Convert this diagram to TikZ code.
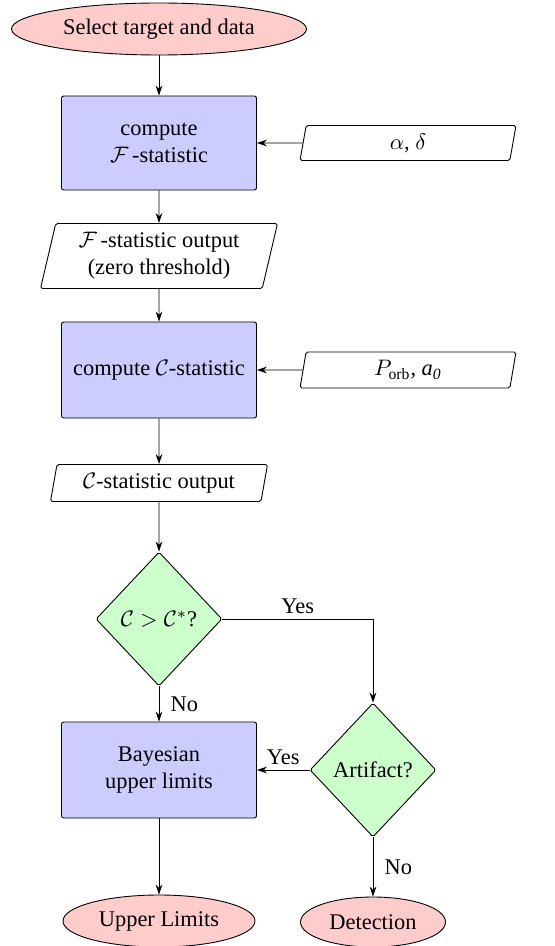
\documentclass[tikz,border=0pt]{standalone}
\usepackage{fontspec}
\setmainfont{Liberation Serif}
\newfontfamily\timesf{Liberation Serif}
\usetikzlibrary{shapes.geometric,arrows.meta}
\def\myu{0.4464pt}
\tikzset{
  every node/.style={font=\timesf\fontsize{10}{12}\selectfont},
  line/.style={draw, line width=0.4pt},
  arr/.style={line, -{Stealth[length=4.5pt,width=3pt]}},
  term/.style={ellipse, draw, fill=red!20, inner sep=0pt},
  proc/.style={rectangle, draw, fill=blue!20, rounded corners=1pt, inner sep=0pt, align=center, minimum width=195*\myu},
  io/.style={trapezium, trapezium left angle=72, trapezium right angle=108, trapezium stretches body, draw, fill=white, rounded corners=0.8pt, inner sep=0pt, align=center},
  dec/.style={diamond, draw, fill=green!20, inner sep=0pt, aspect=0.94, rounded corners=0.8pt, minimum width=126*\myu, minimum height=134*\myu},
  lab/.style={inner sep=5pt}
}
\begin{document}
\begin{tikzpicture}[x=0.4464pt,y=-0.4464pt]
\useasboundingbox (0,0) rectangle (554,946);
\node[term, minimum width=295*\myu, minimum height=52*\myu] (start) at (159,29) {Select target and data};
\node[proc, minimum height=94*\myu] (box1) at (159,143) {compute\\$\mathcal{F}$\,-statistic};
\node[io, minimum width=216*\myu, minimum height=35*\myu] (in1) at (408,143) {$\alpha$, $\delta$};
\node[io, minimum width=237*\myu, minimum height=65*\myu] (out1) at (159,256) {$\mathcal{F}$\,-statistic output\\(zero threshold)};
\node[proc, minimum height=96*\myu] (box2) at (159,370) {compute $\mathcal{C}$-statistic};
\node[io, minimum width=216*\myu, minimum height=36*\myu] (in2) at (408,370) {$P_{\mathrm{orb}}$, \textit{a}\textsubscript{\textit{0}}};
\node[io, minimum width=217*\myu, minimum height=37*\myu] (out2) at (159,483) {$\mathcal{C}$-statistic output};
\node[dec] (d1) at (159,619) {$\mathcal{C} > \mathcal{C}^{*}$?};
\node[dec] (d2) at (373,770) {Artifact?};
\node[proc, minimum height=96*\myu] (box3) at (159,770) {Bayesian\\upper limits};
\node[term, minimum width=192*\myu, minimum height=52*\myu] (end1) at (159,921) {Upper Limits};
\node[term, minimum width=145*\myu, minimum height=50*\myu] (end2) at (373,922) {Detection};

\draw[arr] (start) -- (box1);
\draw[arr] (in1.west) -- (box1.east);
\draw[arr] (box1) -- (out1);
\draw[arr] (out1) -- (box2);
\draw[arr] (in2.west) -- (box2.east);
\draw[arr] (box2) -- (out2);
\draw[arr] (out2) -- (d1);
\draw[arr] (d1.east) -| node[pos=0.25, above, inner sep=2pt] {Yes} (d2.north);
\draw[arr] (d1.south) -- node[right, lab] {No} (box3.north);
\draw[arr] (d2.west) -- node[above, inner sep=2pt] {Yes} (box3.east);
\draw[arr] (box3) -- (end1);
\draw[arr] (d2.south) -- node[right, lab] {No} (end2.north);
\end{tikzpicture}
\end{document}
